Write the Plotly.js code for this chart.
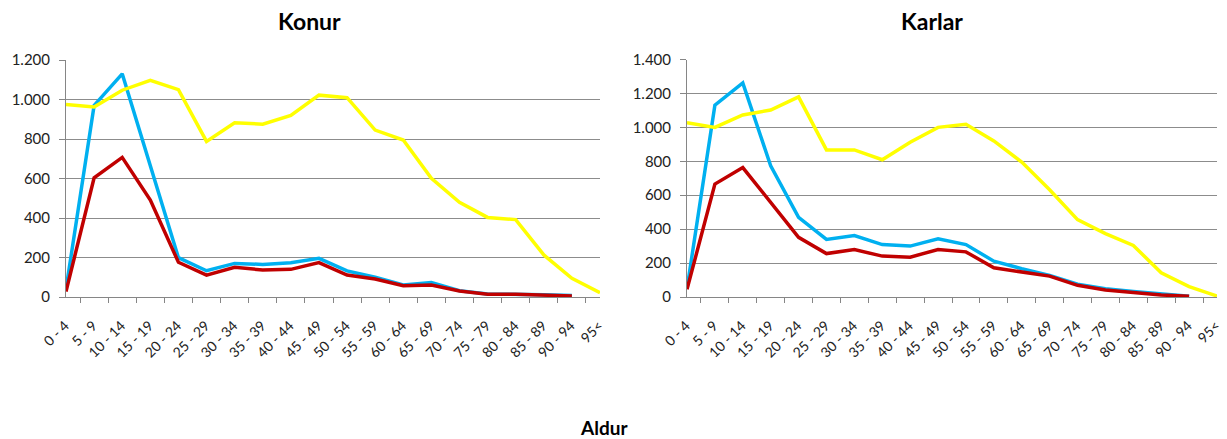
<!DOCTYPE html>
<html>
<head>
<meta charset="utf-8">
<script src="https://cdn.plot.ly/plotly-3.0.1.min.js"></script>
<style>html,body{margin:0;padding:0;background:#fff}#chart{width:1227px;height:439px}</style>
</head>
<body>
<div id="chart"></div>
<script>
const ageGroups = ['0 - 4','5 - 9','10 - 14','15 - 19','20 - 24','25 - 29','30 - 34','35 - 39','40 - 44','45 - 49','50 - 54','55 - 59','60 - 64','65 - 69','70 - 74','75 - 79','80 - 84','85 - 89','90 - 94','95<'];

const konurYellow = [975, 962, 1047, 1097, 1050, 788, 882, 875, 919, 1022, 1009, 845, 795, 601, 479, 403, 392, 213, 95, 22];
const konurBlue   = [40, 970, 1130, 660, 199, 133, 170, 165, 174, 196, 132, 100, 61, 73, 32, 15, 15, 11, 7, null];
const konurRed    = [28, 604, 707, 491, 176, 111, 150, 137, 140, 174, 111, 91, 57, 61, 30, 14, 14, 9, 5, null];

const karlarYellow = [1028, 1000, 1073, 1102, 1180, 867, 867, 809, 912, 1000, 1018, 920, 795, 632, 456, 374, 304, 143, 61, 6];
const karlarBlue   = [50, 1131, 1262, 773, 470, 339, 362, 309, 300, 343, 309, 211, 167, 127, 75, 49, 32, 17, 5, null];
const karlarRed    = [45, 666, 763, 555, 352, 256, 280, 241, 235, 280, 266, 172, 149, 123, 69, 41, 26, 12, 4, null];

const colBlue = '#00B0F0', colRed = '#C00000', colYellow = '#FFFF00';
const fontFam = 'Lato, "Open Sans", sans-serif';

function tr(y, color, xa, ya) {
  return {x: ageGroups, y: y, type: 'scatter', mode: 'lines', xaxis: xa, yaxis: ya,
    line: {color: color, width: 3.5}, connectgaps: false, hoverinfo: 'skip', showlegend: false};
}

const data = [
  tr(konurBlue, colBlue, 'x', 'y'),
  tr(konurRed, colRed, 'x', 'y'),
  tr(konurYellow, colYellow, 'x', 'y'),
  tr(karlarBlue, colBlue, 'x2', 'y2'),
  tr(karlarRed, colRed, 'x2', 'y2'),
  tr(karlarYellow, colYellow, 'x2', 'y2')
];

const W = 1227, H = 439;
function xax(x0, x1) {
  return {domain: [x0 / W, x1 / W], type: 'category', tickson: 'boundaries',
    ticks: 'outside', ticklen: 5, tickcolor: '#868686', tickangle: -45,
    ticklabelstandoff: 14, ticklabelshift: -1,
    showline: true, linecolor: '#868686', linewidth: 1, showgrid: false, zeroline: false,
    tickfont: {family: fontFam, size: 14, color: '#222'}, fixedrange: true};
}
function yax(top, maxv, anchor) {
  return {domain: [(H - 297) / H, (H - top) / H], range: [0, maxv], dtick: 200,
    tickformat: ',d', ticks: 'outside', ticklen: 6, tickcolor: '#868686', ticklabelstandoff: 6,
    showline: true, linecolor: '#868686', linewidth: 1, showgrid: true, gridcolor: '#8c8c8c',
    gridwidth: 1, zeroline: false, anchor: anchor,
    tickfont: {family: fontFam, size: 15, color: '#222'}, fixedrange: true};
}

const layout = {
  width: W, height: H,
  margin: {l: 0, r: 0, t: 0, b: 0},
  paper_bgcolor: '#fff', plot_bgcolor: '#fff',
  separators: ',.',
  showlegend: false,
  xaxis: Object.assign(xax(66, 600), {anchor: 'y'}),
  yaxis: yax(60, 1200, 'x'),
  xaxis2: Object.assign(xax(687, 1217), {anchor: 'y2'}),
  yaxis2: yax(59.5, 1400, 'x2'),
  annotations: [
    {text: '<b>Konur</b>', xref: 'paper', yref: 'paper', x: 309 / W, y: 1 - 21 / H, xanchor: 'center', yanchor: 'middle', showarrow: false, font: {family: fontFam, size: 23, color: '#000'}},
    {text: '<b>Karlar</b>', xref: 'paper', yref: 'paper', x: 932 / W, y: 1 - 21 / H, xanchor: 'center', yanchor: 'middle', showarrow: false, font: {family: fontFam, size: 23, color: '#000'}},
    {text: '<b>Aldur</b>', xref: 'paper', yref: 'paper', x: 604 / W, y: 1 - 427 / H, xanchor: 'center', yanchor: 'middle', showarrow: false, font: {family: fontFam, size: 19, color: '#000'}}
  ]
};

Plotly.newPlot('chart', data, layout, {displayModeBar: false, staticPlot: true});
</script>
</body>
</html>
